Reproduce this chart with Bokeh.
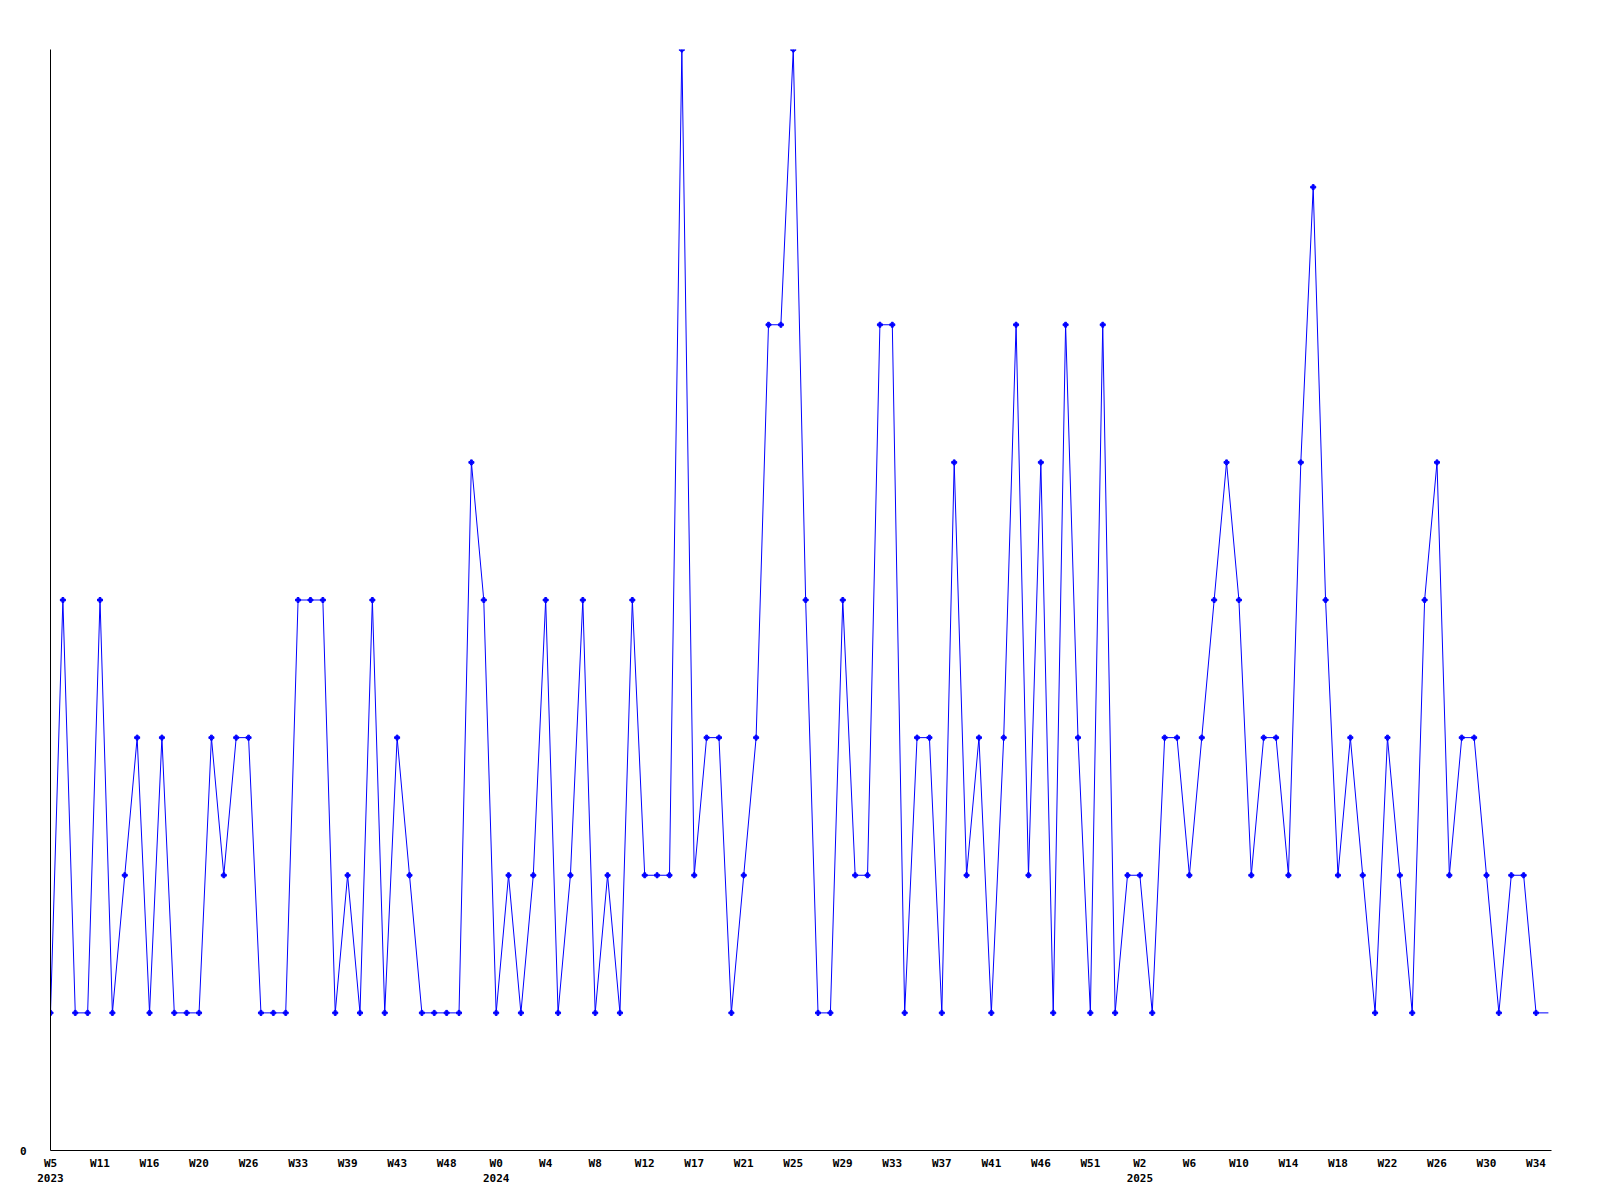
from bokeh.plotting import figure
from bokeh.models import Range1d, FixedTicker
from bokeh.embed import file_html
from bokeh.resources import INLINE

# weekly counts (2023 W5 .. 2025 W34), plus the partial trailing week
counts = [1, 4, 1, 1, 4, 1, 2, 3, 1, 3, 1, 1, 1, 3, 2, 3, 3,
          1, 1, 1, 4, 4, 4, 1, 2, 1, 4, 1, 3, 2, 1, 1, 1, 1,
          5, 4, 1, 2, 1, 2, 4, 1, 2, 4, 1, 2, 1, 4, 2, 2, 2,
          8, 2, 3, 3, 1, 2, 3, 6, 6, 8, 4, 1, 1, 4, 2, 2, 6, 6,
          1, 3, 3, 1, 5, 2, 3, 1, 3, 6, 2, 5, 1, 6, 3, 1, 6,
          1, 2, 2, 1, 3, 3, 2, 3, 4, 5, 4, 2, 3, 3, 2, 5, 7,
          4, 2, 3, 2, 1, 3, 2, 1, 4, 5, 2, 3, 3, 2, 1, 2, 2, 1]
trailing = [1]

week_labels = ["W5", "W11", "W16", "W20", "W26", "W33", "W39", "W43", "W48",
               "W0", "W4", "W8", "W12", "W17", "W21", "W25", "W29", "W33",
               "W37", "W41", "W46", "W51", "W2", "W6", "W10", "W14", "W18",
               "W22", "W26", "W30", "W34"]
year_labels = {0: "2023", 9: "2024", 22: "2025"}
label_step = 4

n = len(counts)
x_pts = list(range(n))
line_x = list(range(n + len(trailing)))
line_y = counts + trailing

p = figure(frame_width=1501, frame_height=1101,
           min_border_left=50, min_border_top=49,
           min_border_right=30, min_border_bottom=40,
           x_range=Range1d(0, 121.25), y_range=Range1d(0, 8),
           output_backend="svg", toolbar_location=None)

p.line(line_x, line_y, line_color="#0000FF", line_width=1)
p.scatter(x_pts, counts, marker="plus", size=5, color="#0000FF")

ticks = [i * label_step for i in range(len(week_labels))]
overrides = {}
for k, (t, w) in enumerate(zip(ticks, week_labels)):
    overrides[t] = w + ("\n" + year_labels[k] if k in year_labels else "")

p.xaxis.ticker = FixedTicker(ticks=ticks)
p.xaxis.major_label_overrides = overrides
p.yaxis.ticker = FixedTicker(ticks=[0])

for ax in (p.xaxis, p.yaxis):
    ax.axis_line_color = "black"
    ax.axis_line_width = 1
    ax.major_tick_line_color = None
    ax.minor_tick_line_color = None
    ax.major_label_text_font = "DejaVu Sans Mono"
    ax.major_label_text_font_style = "bold"
    ax.major_label_text_font_size = "11px"
    ax.major_label_text_color = "black"

p.xaxis.major_label_standoff = 0
p.xaxis.major_label_text_line_height = 1.2
p.yaxis.major_label_standoff = 18

p.xgrid.grid_line_color = None
p.ygrid.grid_line_color = None
p.outline_line_color = None
p.background_fill_color = "white"
p.border_fill_color = "white"

open("out.html", "w").write(file_html(p, INLINE))
